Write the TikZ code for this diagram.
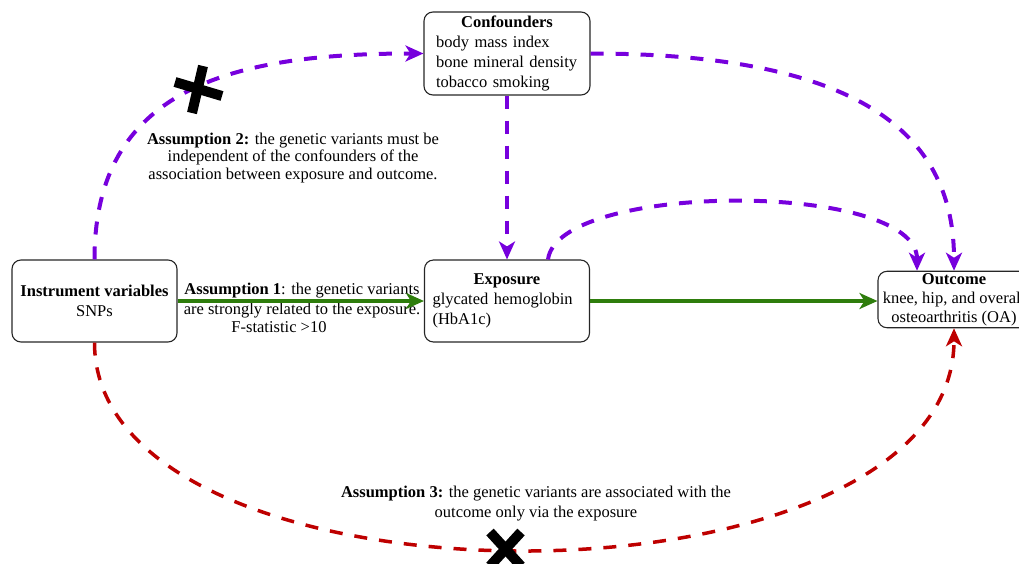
\documentclass[tikz,border=0pt]{standalone}
\usepackage{fontspec}
\setmainfont{Liberation Serif}
\usetikzlibrary{arrows.meta}
\definecolor{mrgreen}{RGB}{46,125,12}
\definecolor{mrpurple}{RGB}{119,0,221}
\definecolor{mrred}{RGB}{190,0,0}

\begin{document}
\begin{tikzpicture}[x=1pt,y=-1pt,
    every node/.style={font=\fontsize{16.5}{20}\selectfont},
    box/.style={draw=black!85,line width=1.1pt,rounded corners=9pt,align=center},
    note/.style={align=center,font=\fontsize{16.5}{17.5}\selectfont},
    greenarrow/.style={mrgreen,line width=3.5pt,-{Stealth[length=18pt,width=16pt,inset=5pt]}},
    purplearrow/.style={mrpurple,line width=4pt,dash pattern=on 13pt off 12pt,-{Stealth[length=18pt,width=16pt,inset=5pt]}},
    redarrow/.style={mrred,line width=3.5pt,dash pattern=on 13pt off 12pt,-{Stealth[length=18pt,width=16pt,inset=5pt]}},
    xmark/.style={black,line width=10pt}]
  \useasboundingbox (0,0) rectangle (1019,563);

  \node[box,minimum width=165pt,minimum height=82pt] (instr) at (94.5,301) {\textbf{Instrument variables}\\SNPs};
  \node[box,minimum width=166pt,minimum height=83pt,text width=142pt,inner xsep=12pt,align=left] (conf) at (507,53.5)
    {{\centering\textbf{Confounders}\par}body mass index\\bone mineral density\\tobacco smoking};
  \node[box,minimum width=165pt,minimum height=82pt,text width=149pt,inner xsep=8pt,align=left] (expo) at (507,301)
    {{\centering\textbf{Exposure}\par}glycated hemoglobin\\(HbA1c)};
  \node[box,minimum width=152pt,minimum height=55pt,inner sep=2pt,font=\fontsize{16.5}{19}\selectfont] (outc) at (954,299.5)
    {\textbf{Outcome}\\knee, hip, and overall\\osteoarthritis (OA)};

  \node[note] (asm2) at (293,158) {\textbf{Assumption 2:} the genetic variants must be\\independent of the confounders of the\\association between exposure and outcome.};
  \node[note,font=\fontsize{16.5}{20}\selectfont] (asm1) at (302,301) {\textbf{Assumption 1}: the genetic variants\\are strongly related to the exposure.};
  \node[note] (fstat) at (279,327) {F-statistic >10};
  \node[note,font=\fontsize{16.5}{20}\selectfont] (asm3) at (536,504) {\textbf{Assumption 3:} the genetic variants are associated with the\\outcome only via the exposure};

  \draw[greenarrow] (instr.east) -- (expo.west);
  \draw[greenarrow] (expo.east) -- (expo.east -| outc.west);
  \draw[purplearrow] (instr.north) .. controls +(0,-170) and +(-194,0) .. (conf.west);
  \draw[purplearrow] (conf.east) .. controls +(280,0) and +(0,-130) .. (outc.north);
  \draw[purplearrow] (conf.south) -- (expo.north);
  \draw[purplearrow] ([xshift=41pt]expo.north) .. controls +(10,-78) and +(0,-90) .. ([xshift=-37pt]outc.north);
  \draw[redarrow] (instr.south) .. controls +(0,278) and +(0,293) .. (outc.south);

  \draw[xmark] (203,66) -- (192,113) (175,82) -- (222,96);
  \draw[xmark] (490,532) -- (521,566) (521,532) -- (490,566);
\end{tikzpicture}
\end{document}
